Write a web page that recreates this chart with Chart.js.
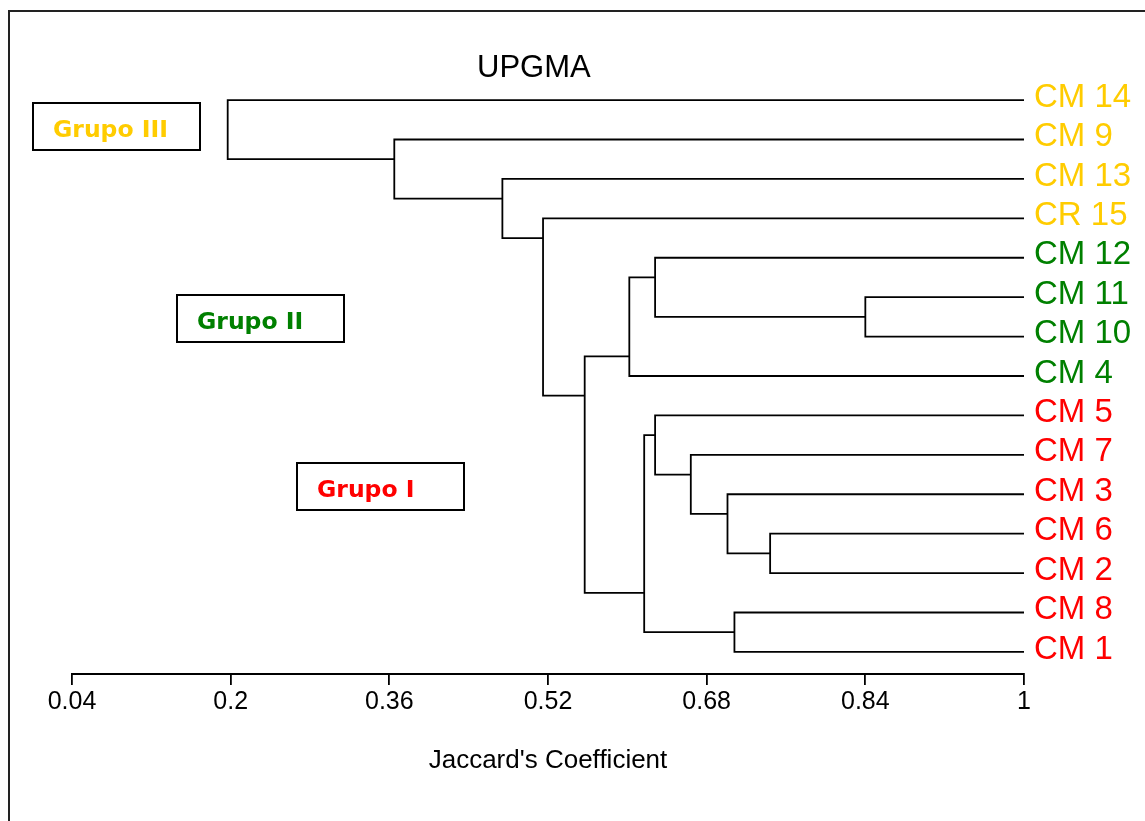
<!DOCTYPE html>
<html>
<head>
<meta charset="utf-8">
<title>UPGMA</title>
<script src="https://cdn.jsdelivr.net/npm/chart.js@4.4.1/dist/chart.umd.min.js"></script>
<style>
  html, body { margin: 0; padding: 0; background: #fff; overflow: hidden; }
  #wrap { position: relative; width: 1145px; height: 821px; }
  #frame { position: absolute; left: 8px; top: 10px; width: 1200px; height: 900px;
           border-left: 2px solid #222; border-top: 2px solid #222; }
  canvas { position: absolute; left: 0; top: 0; }
  .title { position: absolute; left: 477px; top: 51px; color: #000;
           font: 31px "Liberation Sans", Arial, sans-serif; line-height: 31px; }
  .grupo { position: absolute; box-sizing: border-box; width: 169px; height: 49px;
           border: 2px solid #000; padding-left: 19px; white-space: nowrap;
           font: bold 23.5px "DejaVu Sans", Verdana, sans-serif; line-height: 51px; }
</style>
</head>
<body>
<div id="wrap">
  <div id="frame"></div>
  <canvas id="dendro" width="1145" height="821"></canvas>
  <div class="title">UPGMA</div>
  <div class="grupo" style="left:32px; top:102px; color:#ffcc00;">Grupo III</div>
  <div class="grupo" style="left:176px; top:294px; color:#008000;">Grupo II</div>
  <div class="grupo" style="left:296px; top:462px; color:#ff0000;">Grupo I</div>
</div>
<script>
// hojas del dendrograma, de arriba hacia abajo
const leaves = ["CM 14", "CM 9", "CM 13", "CR 15", "CM 12", "CM 11", "CM 10", "CM 4",
                "CM 5", "CM 7", "CM 3", "CM 6", "CM 2", "CM 8", "CM 1"];
const leafGroup = ["III", "III", "III", "III", "II", "II", "II", "II",
                   "I", "I", "I", "I", "I", "I", "I"];
const groupColors = { I: "#ff0000", II: "#008000", III: "#ffcc00" };

// uniones estilo hclust: negativo = hoja (base 1), positivo = unión anterior
const mergeA = [-6, -12, -14, -11, -10, -9, -5, 6, 7, 9, -4, -3, -2, -1];
const mergeB = [-7, -13, -15, 2, 4, 5, 1, 3, -8, 8, 10, 11, 12, 13];
const mergeHeight = [0.840, 0.744, 0.708, 0.701, 0.664, 0.628, 0.628,
                     0.617, 0.602, 0.557, 0.515, 0.474, 0.365, 0.197];

const xTicks = [0.04, 0.2, 0.36, 0.52, 0.68, 0.84, 1];

// armar los segmentos del dendrograma
const nodes = [];
function node(id) {
  if (id < 0) return { x: 1, y: -id - 1, lo: -id - 1, hi: -id - 1 };
  return nodes[id - 1];
}
const segments = mergeHeight.map((h, i) => {
  let a = node(mergeA[i]);
  let b = node(mergeB[i]);
  if (a.lo > b.lo) [a, b] = [b, a];
  nodes.push({ x: h, y: a.hi + 0.5, lo: a.lo, hi: b.hi });
  return [{ x: a.x, y: a.y }, { x: h, y: a.y }, { x: h, y: b.y }, { x: b.x, y: b.y }];
});

const ctx = document.getElementById("dendro").getContext("2d");

new Chart(ctx, {
  type: "line",
  data: {
    datasets: segments.map((seg) => ({
      data: seg,
      borderColor: "#000",
      borderWidth: 1.8,
      pointRadius: 0,
      fill: false,
      tension: 0,
    })),
  },
  options: {
    responsive: false,
    animation: false,
    events: [],
    layout: { padding: { left: 72, top: 78, right: 0, bottom: 45 } },
    plugins: {
      legend: { display: false },
      tooltip: { enabled: false },
    },
    scales: {
      x: {
        type: "linear",
        min: 0.04,
        max: 1,
        afterBuildTicks: (scale) => {
          scale.ticks = xTicks.map((v) => ({ value: v }));
        },
        afterFit: (scale) => {
          scale.height = 102;
        },
        grid: { display: true, drawOnChartArea: false, drawTicks: true, tickLength: 11, color: "#000", lineWidth: 1.8 },
        border: { display: true, color: "#000", width: 2 },
        ticks: {
          autoSkip: false,
          maxRotation: 0,
          padding: 2,
          color: "#000",
          font: { family: "'Liberation Sans', Arial, sans-serif", size: 25 },
          callback: (v) => String(v),
        },
        title: {
          display: true,
          text: "Jaccard's Coefficient",
          color: "#000",
          padding: { top: 0, bottom: 0 },
          font: { family: "'Liberation Sans', Arial, sans-serif", size: 26 },
        },
      },
      y: {
        type: "linear",
        position: "right",
        reverse: true,
        min: -0.56,
        max: 14.56,
        afterBuildTicks: (scale) => {
          scale.ticks = leaves.map((_, i) => ({ value: i }));
        },
        afterFit: (scale) => {
          scale.width = 121;
        },
        grid: { display: false, drawTicks: false },
        border: { display: false },
        ticks: {
          autoSkip: false,
          padding: 10,
          labelOffset: -2.5,
          font: { family: "'Liberation Sans', Arial, sans-serif", size: 33, lineHeight: 1 },
          color: (c) => groupColors[leafGroup[c.tick.value]],
          callback: (v) => leaves[v],
        },
      },
    },
  },
});
</script>
</body>
</html>
